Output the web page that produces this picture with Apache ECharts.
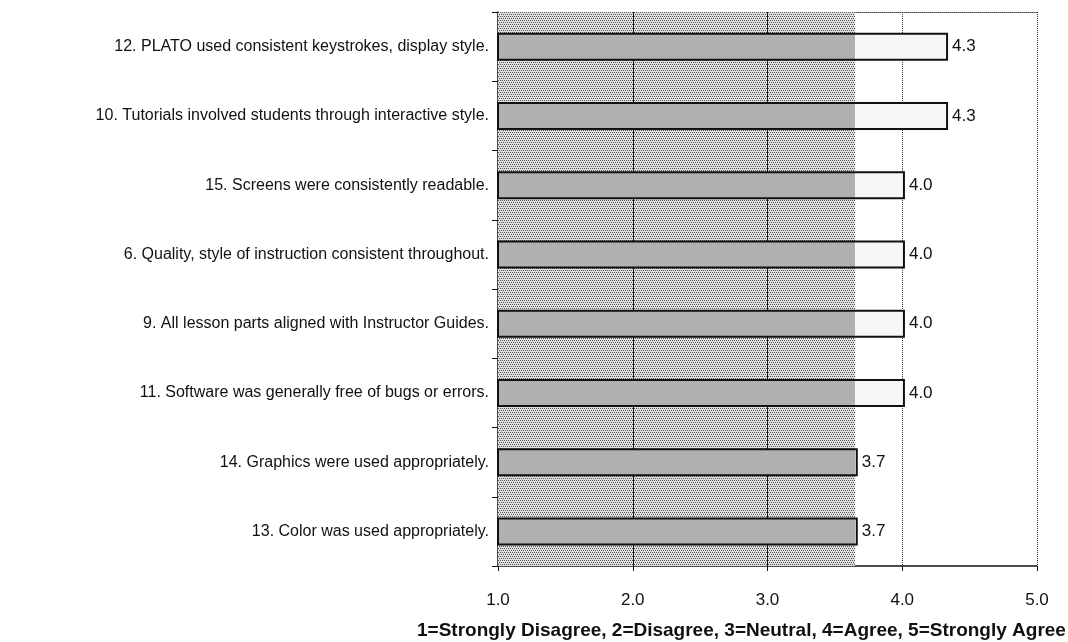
<!DOCTYPE html>
<html>
<head>
<meta charset="utf-8">
<script src="https://cdn.jsdelivr.net/npm/echarts@6/dist/echarts.min.js"></script>
<style>
  html, body { margin: 0; padding: 0; background: #fff; }
  #chart { width: 1068px; height: 642px; }
</style>
</head>
<body>
<div id="chart"></div>
<script>
var categories = [
    '12. PLATO used consistent keystrokes, display style.',
    '10. Tutorials involved students through interactive style.',
    '15. Screens were consistently readable.',
    '6. Quality, style of instruction consistent throughout.',
    '9. All lesson parts aligned with Instructor Guides.',
    '11. Software was generally free of bugs or errors.',
    '14. Graphics were used appropriately.',
    '13. Color was used appropriately.'
];
var scores = [4.34, 4.34, 4.02, 4.02, 4.02, 4.02, 3.67, 3.67];
var scaleLabel = '1=Strongly Disagree, 2=Disagree, 3=Neutral, 4=Agree, 5=Strongly Agree';
var shadeEnd = 3.65;   // the stippled background stops here

// small dotted texture for the shaded part of the plot
function stipple(bg, dot) {
    var c = document.createElement('canvas');
    c.width = 4; c.height = 4;
    var g = c.getContext('2d');
    g.fillStyle = bg; g.fillRect(0, 0, 4, 4);
    g.fillStyle = dot;
    g.fillRect(0, 0, 1, 1); g.fillRect(2, 0, 1, 1);
    g.fillRect(1, 2, 1, 1); g.fillRect(3, 2, 1, 1);
    return c;
}

var dom = document.getElementById('chart');
var myChart = echarts.init(dom);
var font = '"Liberation Sans", Arial, sans-serif';

var barData = scores.map(function (v) {
    var s = Math.min(1, (shadeEnd - 1) / (v - 1));
    return {
        value: v,
        itemStyle: {
            color: new echarts.graphic.LinearGradient(0, 0, 1, 0, [
                { offset: 0, color: '#b0b0b0' },
                { offset: s, color: '#b0b0b0' },
                { offset: s, color: '#f7f7f7' },
                { offset: 1, color: '#f7f7f7' }
            ])
        }
    };
});

var option = {
    animation: false,
    grid: { left: 498, right: 31, top: 12, bottom: 76, containLabel: false },
    title: {
        text: scaleLabel,
        left: 417,
        top: 621,
        padding: 0,
        textStyle: { fontFamily: font, fontSize: 19, fontWeight: 'bold', color: '#111' }
    },
    xAxis: [
        {
            type: 'value',
            min: 1,
            max: 5,
            interval: 1,
            axisLine: { show: true, lineStyle: { color: '#111', width: 1.5 } },
            axisTick: { show: true, length: 5, lineStyle: { color: '#111' } },
            axisLabel: {
                margin: 26,
                fontFamily: font,
                fontSize: 17,
                color: '#111',
                formatter: function (v) { return v.toFixed(1); }
            },
            splitLine: { show: true, lineStyle: { color: '#333', type: 'dotted', width: 1 } }
        },
        {
            type: 'value',
            position: 'top',
            min: 1,
            max: 5,
            axisLine: { show: true, lineStyle: { color: '#444', type: 'dotted', width: 1 } },
            axisTick: { show: false },
            axisLabel: { show: false },
            splitLine: { show: false }
        }
    ],
    yAxis: {
        type: 'category',
        inverse: true,
        data: categories,
        axisLine: { show: true, lineStyle: { color: '#111', width: 1.5 } },
        axisTick: { show: true, length: 6, lineStyle: { color: '#111' } },
        axisLabel: { margin: 9, fontFamily: font, fontSize: 16, color: '#111' }
    },
    series: [
        {
            name: 'Rating',
            type: 'bar',
            barWidth: 28,
            z: 3,
            data: barData,
            itemStyle: { borderColor: '#111', borderWidth: 2 },
            label: {
                show: true,
                position: 'right',
                distance: 4,
                fontFamily: font,
                fontSize: 17,
                color: '#111',
                formatter: function (p) { return p.value.toFixed(1); }
            },
            markArea: {
                silent: true,
                z: 1,
                itemStyle: { color: { image: stipple('#e0e0e0', '#555'), repeat: 'repeat' } },
                data: [[{ xAxis: 1 }, { xAxis: shadeEnd }]]
            },
            markLine: {
                silent: true,
                z: 2,
                symbol: 'none',
                label: { show: false },
                lineStyle: { color: '#111', type: 'solid', width: 1 },
                data: [{ xAxis: 2 }, { xAxis: 3 }]
            }
        }
    ]
};

myChart.setOption(option, true);
</script>
</body>
</html>
